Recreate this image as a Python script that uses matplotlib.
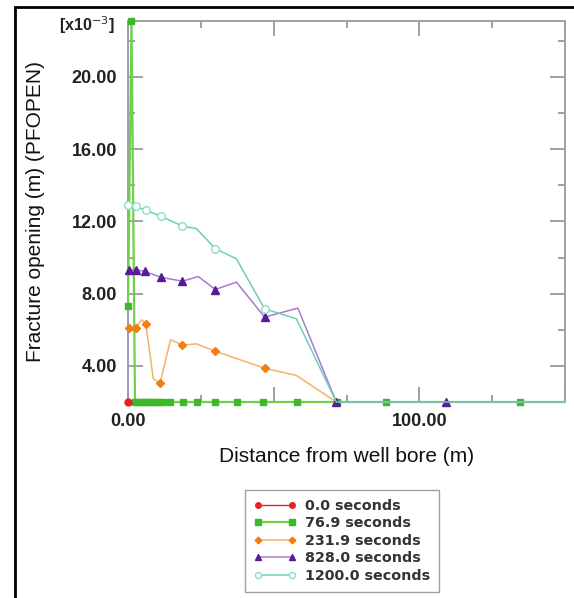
import matplotlib
matplotlib.use('Agg')
import matplotlib.pyplot as plt
from matplotlib.ticker import MultipleLocator, FuncFormatter
from matplotlib.patches import Rectangle

# fracture opening values in units of 1e-3 m
x_0 = [0.0]
y_0 = [2.0]

x_77 = [0.0, 1.2, 2.4, 3.6, 4.8, 6.0, 7.2, 8.4, 9.6, 10.8, 12.0, 14.4, 18.8,
        23.6, 29.8, 37.3, 46.2, 57.9, 71.9, 88.7, 134.6, 150.0]
y_77 = [7.3, 23.1, 2.0, 2.0, 2.0, 2.0, 2.0, 2.0, 2.0, 2.0, 2.0, 2.0, 2.0,
        2.0, 2.0, 2.0, 2.0, 2.0, 2.0, 2.0, 2.0, 2.0]
mark_77 = list(range(21))

x_232 = [0.4, 2.7, 4.7, 6.1, 8.7, 11.0, 14.6, 18.7, 23.5, 30.0, 46.9, 57.8, 71.5, 150.0]
y_232 = [6.11, 6.11, 6.55, 6.33, 3.29, 3.04, 5.45, 5.15, 5.22, 4.81, 3.87, 3.47, 2.0, 2.0]
mark_232 = [0, 1, 3, 5, 7, 9, 10]

x_828 = [0.4, 2.7, 5.8, 11.2, 18.7, 24.1, 30.0, 37.2, 46.9, 58.3, 71.5, 109.0, 150.0]
y_828 = [9.32, 9.32, 9.23, 8.91, 8.69, 8.95, 8.23, 8.64, 6.70, 7.20, 2.0, 2.0, 2.0]
mark_828 = [0, 1, 2, 3, 4, 6, 8, 10, 11]

x_1200 = [0.0, 2.7, 6.2, 11.2, 18.7, 23.5, 30.0, 37.2, 46.9, 57.8, 71.5, 109.0, 150.0]
y_1200 = [12.89, 12.83, 12.61, 12.29, 11.74, 11.6, 10.49, 9.93, 7.16, 6.61, 2.0, 2.0, 2.0]
mark_1200 = [0, 1, 2, 3, 4, 6, 8]

labels = ['0.0 seconds', '76.9 seconds', '231.9 seconds', '828.0 seconds', '1200.0 seconds']

fig = plt.figure(figsize=(5.74, 5.98), dpi=100)
ax = fig.add_axes([128/574, 1-402/598, (565-128)/574, (402-21)/598])

ax.plot(x_0, y_0, color='#e8202a', marker='o', ms=5, lw=1, clip_on=False, zorder=5, label=labels[0])
ax.plot(x_77, y_77, color='#6fd04a', marker='s', ms=5, mfc='#3cb82a', mec='#3cb82a', lw=1.6,
        markevery=mark_77, clip_on=False, zorder=3, label=labels[1])
ax.plot(x_232, y_232, color='#f5b366', marker='D', ms=4.2, mfc='#f07f10', mec='#f07f10', lw=1.1,
        markevery=mark_232, clip_on=False, zorder=4, label=labels[2])
ax.plot(x_828, y_828, color='#a77cd0', marker='^', ms=5.5, mfc='#5a1c96', mec='#5a1c96', lw=1.1,
        markevery=mark_828, clip_on=False, zorder=4, label=labels[3])
ax.plot(x_1200, y_1200, color='#6ccfb6', marker='o', ms=5.5, mfc='white', mec='#8fdcc6', lw=1.1,
        markevery=mark_1200, clip_on=False, zorder=4, label=labels[4])

ax.set_xlim(0, 150)
ax.set_ylim(2.0, 23.1)
ax.xaxis.set_major_locator(MultipleLocator(50))
ax.xaxis.set_minor_locator(MultipleLocator(25))
ax.xaxis.set_major_formatter(FuncFormatter(lambda v, p: '%.2f' % v if v in (0, 100) else ''))
ax.yaxis.set_major_locator(MultipleLocator(4))
ax.yaxis.set_minor_locator(MultipleLocator(2))
ax.yaxis.set_major_formatter(FuncFormatter(lambda v, p: '%.2f' % v if v >= 4 else ''))

ax.tick_params(which='both', direction='in', top=True, right=True, color='#999999', width=1.3)
ax.tick_params(which='major', length=11, pad=8)
ax.tick_params(which='minor', length=5)
for t in ax.get_xticklabels() + ax.get_yticklabels():
    t.set_fontfamily('Liberation Sans')
    t.set_fontweight('bold')
    t.set_fontsize(13)
    t.set_color('#222222')
for s in ax.spines.values():
    s.set_color('#a0a0a0')
    s.set_linewidth(1.4)
ax.spines['left'].set_color('#9a9cb0')

ax.set_xlabel('Distance from well bore (m)', fontsize=15, family='Liberation Sans', color='#111111', labelpad=12)
ax.set_ylabel('Fracture opening (m) (PFOPEN)', fontsize=15, family='Liberation Sans', color='#111111', labelpad=19)

fig.text(87/574, 1-25/598, r'[x10$^{-3}$]', ha='center', va='center', fontsize=11.5,
         fontweight='bold', family='Liberation Sans', color='#222222')

leg = fig.legend(loc='upper left', bbox_to_anchor=(238/574, 1-483/598), numpoints=2,
                 frameon=True, fancybox=False, handlelength=3.0, handletextpad=0.6,
                 labelspacing=0.25, borderpad=0.6, markerscale=0.8,
                 prop={'family': 'DejaVu Sans', 'weight': 'bold', 'size': 10.3})
leg.get_frame().set_edgecolor('#888888')
leg.get_frame().set_linewidth(1.0)
for t in leg.get_texts():
    t.set_color('#333333')

fig.patches.append(Rectangle((15/574, -0.1), 1.2, 1.1-7/598, transform=fig.transFigure,
                             fill=False, edgecolor='black', linewidth=2))

fig.savefig('out.png', dpi=100)
